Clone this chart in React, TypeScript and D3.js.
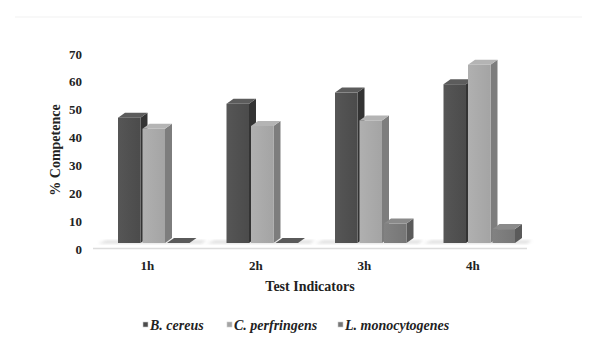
import * as d3 from "d3";

const categories = ["1h", "2h", "3h", "4h"];
const series = ["B. cereus", "C. perfringens", "L. monocytogenes"];
const bCereus = [45, 50, 54, 57];
const cPerfringens = [41, 42, 44, 64];
const lMonocytogenes = [0, 0, 7, 5];
const yTicks = [0, 10, 20, 30, 40, 50, 60, 70];

const values = [bCereus, cPerfringens, lMonocytogenes];

// front / side / top shades per series
const shades = [
  { front: "#4b4b4b", frontLight: "#565656", side: "#333333", top: "#5c5c5c" },
  { front: "#a4a4a4", frontLight: "#b0b0b0", side: "#7d7d7d", top: "#b4b4b4" },
  { front: "#767676", frontLight: "#828282", side: "#5a5a5a", top: "#8a8a8a" },
];

const W = 600;
const H = 360;
const font = "'Liberation Serif', 'Times New Roman', serif";

export default function App() {
  const x = d3.scaleBand<string>().domain(categories).range([93, 527]);
  const xi = d3.scaleBand<string>().domain(series).range([25, 96.5]).paddingInner(0.082);
  const y = d3.scaleLinear().domain([0, 70]).range([249, 54]);

  const floor = 6; // bars sit back on the floor
  const dx = 7;
  const dy = 5;
  const base = y(0) - floor;

  return (
    <svg
      width={W}
      height={H}
      style={{ position: "absolute", left: 0, top: 0, background: "#fff" }}
      fontFamily={font}
    >
      <defs>
        <filter id="blur" x="-50%" y="-50%" width="200%" height="200%">
          <feGaussianBlur stdDeviation="1.5" />
        </filter>
        {shades.map((s, i) => (
          <linearGradient key={i} id={`g${i}`} x1="0" y1="0" x2="1" y2="0">
            <stop offset="0%" stopColor={s.frontLight} />
            <stop offset="100%" stopColor={s.front} />
          </linearGradient>
        ))}
      </defs>

      <line x1={15} x2={582} y1={17} y2={17} stroke="#f1f1f1" />

      {/* floor shadows */}
      {categories.map((c) => {
        const x0 = x(c)! + xi(series[0])! - 20;
        const x1 = x(c)! + xi(series[2])! + xi.bandwidth() + dx + 10;
        return (
          <polygon
            key={c}
            points={`${x0},${base + 0.5} ${x1 - 5},${base + 0.5} ${x1},${base - 2.5} ${x0 + 8},${base - 2.5}`}
            fill="#c4c4c4"
            opacity={0.6}
            filter="url(#blur)"
          />
        );
      })}

      {/* x axis line */}
      <line x1={93} x2={527} y1={248.5} y2={248.5} stroke="#dcdcdc" strokeWidth={1.5} />

      {categories.map((c, ci) => (
        <g key={c}>
          {series.map((s, si) => {
            const v = values[si][ci];
            const bx = x(c)! + xi(s)!;
            const bw = xi.bandwidth();
            const top = y(v) - floor;
            const sh = shades[si];
            return (
              <g key={s}>
                {v > 0 && (
                  <polygon
                    points={`${bx + bw},${top} ${bx + bw + dx},${top - dy} ${bx + bw + dx},${base - dy} ${bx + bw},${base}`}
                    fill={sh.side}
                  />
                )}
                {v > 0 && <rect x={bx} y={top} width={bw} height={base - top} fill={`url(#g${si})`} />}
                <polygon
                  points={`${bx},${top} ${bx + bw},${top} ${bx + bw + dx},${top - dy} ${bx + dx},${top - dy}`}
                  fill={v > 0 ? sh.top : sh.side}
                />
              </g>
            );
          })}
        </g>
      ))}

      {/* y ticks */}
      {yTicks.map((t) => (
        <text
          key={t}
          x={82}
          y={y(t)}
          dy="0.35em"
          textAnchor="end"
          fontSize={13}
          fontWeight="bold"
          fill="#222"
        >
          {t}
        </text>
      ))}

      {/* x ticks */}
      {categories.map((c) => (
        <text
          key={c}
          x={x(c)! + x.bandwidth() / 2}
          y={270}
          textAnchor="middle"
          fontSize={13}
          fontWeight="bold"
          fill="#222"
        >
          {c}
        </text>
      ))}

      <text x={310} y={291} textAnchor="middle" fontSize={14} fontWeight="bold" fill="#222">
        Test Indicators
      </text>

      <text
        transform={`translate(60,150) rotate(-90)`}
        textAnchor="middle"
        fontSize={14}
        fontWeight="bold"
        fill="#222"
      >
        % Competence
      </text>

      {/* legend */}
      {series.map((s, i) => {
        const lx = [143, 227, 338][i];
        return (
          <g key={s}>
            <rect x={lx} y={322} width={5} height={5} fill={shades[i].front} stroke="#ccc" strokeWidth={0.6} />
            <text
              x={lx + 7}
              y={325}
              dy="0.35em"
              fontSize={14}
              fontWeight="bold"
              fontStyle="italic"
              fill="#222"
            >
              {s}
            </text>
          </g>
        );
      })}
    </svg>
  );
}
